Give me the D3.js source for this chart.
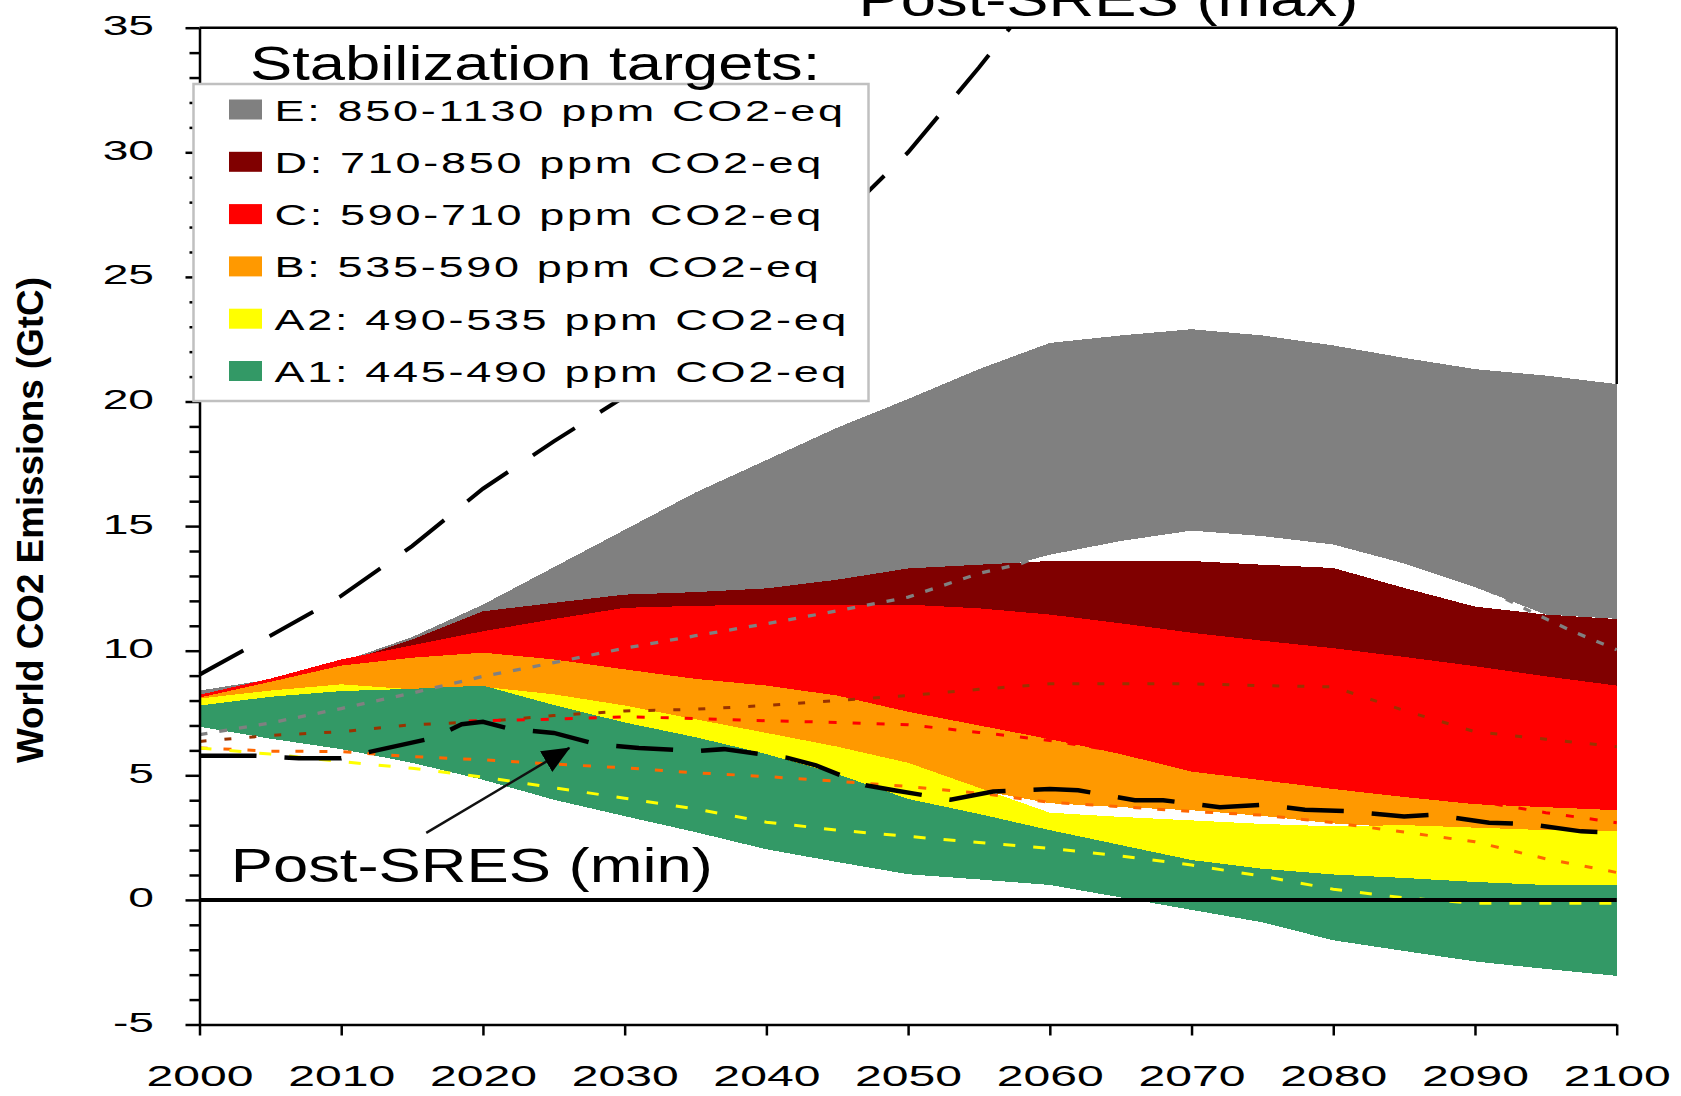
<!DOCTYPE html>
<html>
<head>
<meta charset="utf-8">
<script src="https://cdn.jsdelivr.net/npm/d3@7"></script>
<style>
  body { margin: 0; background: #fff; }
  svg { display: block; }
  text { font-family: "Liberation Sans", Arial, sans-serif; fill: #000; }
</style>
</head>
<body>
<svg id="chart" width="1681" height="1096"></svg>
<script>
// ---------------------------------------------------------------
// Data: world CO2 emission ranges (GtC) per stabilization category
// ---------------------------------------------------------------
const years = [2000, 2005, 2010, 2015, 2020, 2025, 2030, 2035, 2040, 2045, 2050,
               2055, 2060, 2065, 2070, 2075, 2080, 2085, 2090, 2095, 2100];

const catEUpper  = [8.4, 8.85, 9.55, 10.55, 11.85, 13.35, 14.85, 16.35, 17.65, 18.95, 20.1, 21.3, 22.35, 22.65, 22.9, 22.65, 22.25, 21.75, 21.3, 21.04, 20.7];
const catELower  = [8.0, 8.5, 9.2, 9.9, 10.8, 11.3, 11.7, 11.9, 12.1, 12.4, 12.8, 13.1, 13.85, 14.4, 14.82, 14.6, 14.26, 13.5, 12.55, 11.45, 11.28];
const catDUpper  = [8.1, 8.7, 9.5, 10.45, 11.58, 11.92, 12.25, 12.35, 12.5, 12.85, 13.3, 13.45, 13.6, 13.6, 13.6, 13.45, 13.32, 12.52, 11.77, 11.45, 11.27];
const catDLower  = [8.08, 8.6, 9.1, 9.3, 9.9, 10.2, 10.6, 10.7, 10.8, 10.8, 10.8, 10.6, 10.3, 9.9, 9.5, 9.2, 8.9, 8.6, 8.2, 7.9, 7.6];
const catCUpper  = [8.23, 8.88, 9.65, 10.22, 10.78, 11.27, 11.72, 11.8, 11.85, 11.85, 11.85, 11.7, 11.45, 11.1, 10.72, 10.4, 10.1, 9.75, 9.38, 8.97, 8.6];
const catCLower  = [8.05, 8.5, 9.0, 9.2, 9.3, 9.0, 8.5, 8.0, 7.6, 7.1, 6.5, 5.8, 5.2, 4.8, 4.4, 4.1, 3.8, 3.5, 3.3, 3.2, 3.1];
const catBUpper  = [8.12, 8.75, 9.4, 9.72, 9.92, 9.65, 9.25, 8.87, 8.6, 8.2, 7.55, 7.0, 6.45, 5.85, 5.15, 4.8, 4.45, 4.13, 3.84, 3.72, 3.6];
const catBLower  = [8.03, 8.32, 8.6, 8.4, 8.5, 8.05, 7.63, 7.08, 6.56, 6.0, 5.35, 4.4, 3.88, 3.72, 3.6, 3.37, 3.07, 2.9, 2.77, 2.7, 2.65];
const catA2Upper = [8.08, 8.4, 8.65, 8.45, 8.55, 8.25, 7.8, 7.25, 6.7, 6.15, 5.5, 4.5, 3.5, 3.33, 3.19, 3.05, 2.95, 3.0, 2.9, 2.8, 2.75];
const catA2Lower = [7.4, 7.6, 7.5, 7.2, 7.0, 6.6, 6.2, 5.7, 5.0, 4.2, 3.4, 2.8, 2.2, 1.6, 1.0, 0.6, 0.4, 0.3, 0.2, 0.1, 0.0];
const catA1Upper = [7.8, 8.15, 8.38, 8.47, 8.6, 7.82, 7.12, 6.53, 5.85, 5.05, 4.05, 3.45, 2.8, 2.2, 1.6, 1.25, 1.02, 0.88, 0.72, 0.6, 0.6];
const catA1Lower = [6.95, 6.47, 6.05, 5.5, 4.82, 4.02, 3.36, 2.72, 2.03, 1.52, 1.03, 0.82, 0.6, 0.1, -0.4, -0.9, -1.62, -2.05, -2.47, -2.77, -3.05];

const categoryLabels = [
  "E: 850-1130 ppm CO2-eq",
  "D: 710-850 ppm CO2-eq",
  "C: 590-710 ppm CO2-eq",
  "B: 535-590 ppm CO2-eq",
  "A2: 490-535 ppm CO2-eq",
  "A1: 445-490 ppm CO2-eq"
];
const categoryColors = ["#808080", "#800000", "#ff0000", "#ff9900", "#ffff00", "#339966"];

// Dotted reference paths inside the categories
const refEYears = [2000, 2005, 2010, 2015, 2020, 2025, 2030, 2035, 2040, 2045, 2050, 2055, 2058,
                   2060, 2065, 2070, 2075, 2080, 2085, 2090, 2094, 2097, 2100];
const refE  = [6.63, 7.1, 7.68, 8.3, 8.97, 9.52, 10.1, 10.6, 11.08, 11.6, 12.15, 13.1, 13.5,
               14.0, 14.55, 14.95, 14.75, 14.4, 13.65, 12.7, 11.55, 10.75, 10.04];
const refD  = [6.36, 6.6, 6.75, 7.03, 7.15, 7.4, 7.58, 7.65, 7.8, 8.0, 8.2, 8.45, 8.67, 8.67, 8.67, 8.6, 8.55, 7.6, 6.75, 6.45, 6.15];
const refCYears = [2019, 2025, 2030, 2035, 2040, 2045, 2050, 2055, 2060, 2065, 2070, 2075, 2080, 2085, 2090, 2095, 2100];
const refC  = [7.18, 7.25, 7.35, 7.28, 7.19, 7.12, 7.03, 6.72, 6.4, 5.95, 5.3, 4.95, 4.6, 4.28, 3.98, 3.5, 3.1];
const refB  = [6.1, 5.97, 5.95, 5.75, 5.62, 5.45, 5.3, 5.1, 4.95, 4.76, 4.55, 4.28, 3.92, 3.74, 3.55, 3.4, 3.1, 2.72, 2.33, 1.65, 1.1];
const refA2 = [6.1, 5.85, 5.55, 5.28, 4.93, 4.5, 4.08, 3.65, 3.12, 2.8, 2.55, 2.3, 2.07, 1.76, 1.4, 0.95, 0.43, 0.08, -0.13, -0.13, -0.13];

// Post-SRES envelope (max / min)
const postSresMaxYears = [2000, 2005, 2010, 2015, 2020, 2025, 2030, 2035, 2040, 2045, 2050, 2055, 2057.2];
const postSresMax      = [9.04, 10.6, 12.2, 14.2, 16.5, 18.4, 20.2, 22.4, 24.8, 27.2, 30.0, 33.4, 35.0];
const postSresMinYears = [2000, 2004, 2007, 2010, 2012.5, 2016.5, 2018.5, 2020, 2022, 2025, 2028, 2031, 2035, 2037,
                          2041.5, 2043.5, 2047, 2049, 2053, 2056, 2060, 2062, 2066, 2068, 2072, 2075, 2078, 2081,
                          2085, 2087, 2091, 2094, 2097.5, 2100];
const postSresMin      = [5.78, 5.78, 5.68, 5.68, 6.0, 6.5, 7.05, 7.15, 6.85, 6.7, 6.25, 6.1, 5.97, 6.05,
                          5.7, 5.4, 4.6, 4.4, 4.02, 4.35, 4.45, 4.4, 4.0, 4.0, 3.72, 3.82, 3.62, 3.56,
                          3.35, 3.42, 3.1, 3.03, 2.75, 2.7];

// Axis ticks
const xTicks = [2000, 2010, 2020, 2030, 2040, 2050, 2060, 2070, 2080, 2090, 2100];
const yTicks = [-5, 0, 5, 10, 15, 20, 25, 30, 35];

// Annotations (data space)
const minLabelAt   = [2002.2, 0.73];
const maxLabelAt   = [2046.5, 35.45];
const arrowFrom    = [2016.0, 2.69];
const arrowTo      = [2026.1, 6.1];

// ---------------------------------------------------------------
// Layout
// ---------------------------------------------------------------
const svg = d3.select("#chart");
const x = d3.scaleLinear().domain([2000, 2100]).range([199.5, 1616.7]);
const y = d3.scaleLinear().domain([-5, 35]).range([1024.5, 27.7]);

const bands = [
  { upper: catEUpper,  lower: catELower  },
  { upper: catDUpper,  lower: catDLower  },
  { upper: catCUpper,  lower: catCLower  },
  { upper: catBUpper,  lower: catBLower  },
  { upper: catA2Upper, lower: catA2Lower },
  { upper: catA1Upper, lower: catA1Lower }
].map((b, i) => ({ ...b, color: categoryColors[i], label: categoryLabels[i] }));

// Coloured ranges, later categories painted over earlier ones
const area = (b) => d3.area()
  .x((d, i) => x(years[i]))
  .y0((d, i) => y(b.lower[i]))
  .y1((d, i) => y(b.upper[i]));

svg.append("g").selectAll("path")
  .data(bands)
  .join("path")
  .attr("d", b => area(b)(years))
  .attr("fill", b => b.color)
  .attr("shape-rendering", "crispEdges");

// Dotted reference paths
const refLines = [
  { xs: refEYears, ys: refE,  color: "#808080", dash: "8 12", w: 3.3 },
  { xs: years,     ys: refD,  color: "#993300", dash: "7 18", w: 3 },
  { xs: refCYears, ys: refC,  color: "#ff0000", dash: "8 16", w: 3 },
  { xs: years,     ys: refB,  color: "#ff6600", dash: "8 16", w: 3 },
  { xs: years,     ys: refA2, color: "#ffff00", dash: "12 18", w: 3 }
];
const lineGen = (xs) => d3.line().x((d, i) => x(xs[i])).y(d => y(d));

svg.append("g").selectAll("path")
  .data(refLines)
  .join("path")
  .attr("d", r => lineGen(r.xs)(r.ys))
  .attr("fill", "none")
  .attr("stroke", r => r.color)
  .attr("stroke-width", r => r.w)
  .attr("stroke-dasharray", r => r.dash);

// Zero line
svg.append("line")
  .attr("x1", x(2000)).attr("x2", x(2100))
  .attr("y1", y(0)).attr("y2", y(0))
  .attr("stroke", "#000").attr("stroke-width", 4);

// Post-SRES envelope
svg.append("path")
  .attr("d", lineGen(postSresMaxYears)(postSresMax))
  .attr("fill", "none").attr("stroke", "#000")
  .attr("stroke-width", 4).attr("stroke-dasharray", "50 30");

svg.append("path")
  .attr("d", lineGen(postSresMinYears)(postSresMin))
  .attr("fill", "none").attr("stroke", "#000")
  .attr("stroke-width", 4.5).attr("stroke-dasharray", "57 28");

// Frame: top edge and upper part of right edge
svg.append("line")
  .attr("x1", x(2000)).attr("x2", x(2100))
  .attr("y1", y(35)).attr("y2", y(35))
  .attr("stroke", "#000").attr("stroke-width", 2.5);
svg.append("line")
  .attr("x1", x(2100)).attr("x2", x(2100))
  .attr("y1", y(35)).attr("y2", y(catEUpper[catEUpper.length - 1]))
  .attr("stroke", "#000").attr("stroke-width", 2.5);

// Axes
const tickFont = 28;
const yAxis = d3.axisLeft(y).tickValues(yTicks).tickSize(14).tickSizeOuter(0)
  .tickFormat(d => String(d));
const yMinor = d3.axisLeft(y)
  .tickValues(d3.range(-5, 36, 1).filter(v => v % 5 !== 0))
  .tickSize(10).tickSizeOuter(0).tickFormat("");

const gyMinor = svg.append("g").attr("transform", `translate(${x(2000)},0)`).call(yMinor);
gyMinor.select(".domain").remove();
gyMinor.selectAll(".tick line").attr("stroke", "#000").attr("stroke-width", 2.5);

const gy = svg.append("g").attr("transform", `translate(${x(2000)},0)`).call(yAxis);
gy.select(".domain").attr("stroke", "#000").attr("stroke-width", 2.5);
gy.selectAll(".tick line").attr("stroke", "#000").attr("stroke-width", 2.5);
const ySX = 1.65;
gy.selectAll(".tick text")
  .attr("x", -45.5 / ySX)
  .attr("dy", "0.25em")
  .attr("transform", `scale(${ySX},1)`)
  .attr("font-family", null)
  .style("font-size", tickFont + "px");

const xAxis = d3.axisBottom(x).tickValues(xTicks).tickSize(11).tickSizeOuter(0)
  .tickFormat(d => String(d));
const gx = svg.append("g").attr("transform", `translate(0,${y(-5)})`).call(xAxis);
gx.select(".domain").attr("stroke", "#000").attr("stroke-width", 2.5);
gx.selectAll(".tick line").attr("stroke", "#000").attr("stroke-width", 2.5);
const xSX = 1.66;
gx.selectAll(".tick text")
  .attr("y", 61.5)
  .attr("dy", 0)
  .attr("transform", `scale(${xSX},1)`)
  .attr("font-family", null)
  .style("font-size", "29px");

// Axis title
svg.append("text")
  .attr("transform", `translate(43,${(y(35) + y(-5)) / 2 - 6}) rotate(-90)`)
  .attr("text-anchor", "middle")
  .attr("font-weight", "bold")
  .attr("textLength", 486)
  .attr("lengthAdjust", "spacingAndGlyphs")
  .style("font-size", "36px")
  .text("World CO2 Emissions (GtC)");

// Legend
const legend = svg.append("g");
legend.append("rect")
  .attr("x", 193.5).attr("y", 84)
  .attr("width", 675).attr("height", 317)
  .attr("fill", "#fff").attr("stroke", "#c0c0c0").attr("stroke-width", 2.5);

legend.append("g")
  .attr("transform", "translate(250,80) scale(1.32,1)")
  .append("text")
  .style("font-size", "48px")
  .text("Stabilization targets:");

const rowStep = 52.3, firstRow = 109.5;
const rows = legend.selectAll("g.item")
  .data(bands)
  .join("g")
  .attr("class", "item")
  .attr("transform", (d, i) => `translate(0,${firstRow + i * rowStep})`);
rows.append("rect")
  .attr("x", 229).attr("y", -10)
  .attr("width", 33).attr("height", 20)
  .attr("fill", d => d.color);
rows.append("g")
  .attr("transform", "translate(274.5,11) scale(1.5,1)")
  .append("text")
  .style("font-size", "30px")
  .style("letter-spacing", "1.8px")
  .text(d => d.label);

// Post-SRES labels and arrow
svg.append("g")
  .attr("transform", `translate(${x(minLabelAt[0])},${y(minLabelAt[1])}) scale(1.32,1)`)
  .append("text").style("font-size", "48px").text("Post-SRES (min)");

svg.append("g")
  .attr("transform", `translate(${x(maxLabelAt[0])},${y(maxLabelAt[1])}) scale(1.32,1)`)
  .append("text").style("font-size", "48px").text("Post-SRES (max)");

const defs = svg.append("defs");
defs.append("marker")
  .attr("id", "arrowhead")
  .attr("markerUnits", "userSpaceOnUse")
  .attr("markerWidth", 30).attr("markerHeight", 26)
  .attr("refX", 27).attr("refY", 12)
  .attr("orient", "auto")
  .append("path")
  .attr("d", "M0,0 L28,12 L0,24 Z")
  .attr("fill", "#000");

svg.append("line")
  .attr("x1", x(arrowFrom[0])).attr("y1", y(arrowFrom[1]))
  .attr("x2", x(arrowTo[0])).attr("y2", y(arrowTo[1]))
  .attr("stroke", "#111").attr("stroke-width", 2.5)
  .attr("marker-end", "url(#arrowhead)");
</script>
</body>
</html>
